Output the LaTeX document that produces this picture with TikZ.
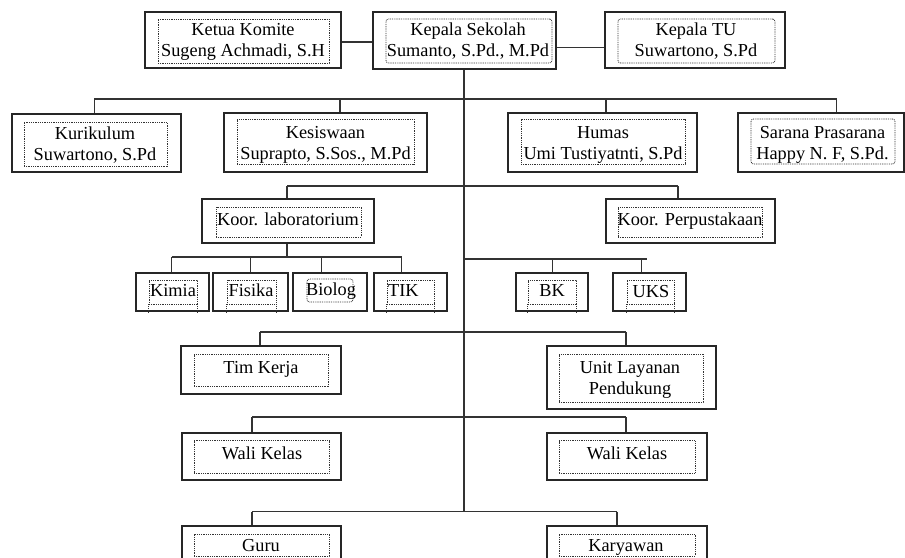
\documentclass[tikz,border=0pt]{standalone}
\usepackage{fontspec}
\setmainfont{Liberation Serif}
\usetikzlibrary{fit}
\begin{document}
\begin{tikzpicture}[x=1pt,y=-1pt,
  outerbox/.style={draw=black!85,line width=1.4pt,inner sep=0pt,rectangle},
  innerbox/.style={draw=black!80,line width=0.8pt,dash pattern=on 0.9pt off 0.9pt,inner sep=0pt,rectangle},
  innerround/.style={innerbox,rounded corners=2.5pt},
  lbl/.style={inner sep=0pt,align=center,yshift=-2.5pt,font=\fontsize{18.3}{21}\selectfont},
  lbl1/.style={lbl,text height=12.5pt,text depth=4pt},
  conn/.style={draw=black!80,line width=1.3pt}]
\clip (0,0) rectangle (905,557);
\fill[white] (0,0) rectangle (905,557);

% ---------- top row ----------
\node[outerbox,fit={(145,12) (341,68)}] (ket) {};
\node[innerbox,fit={(158,19) (329,63)}] (ket-in) {};
\node[lbl] (ket-t) at (243,39) {Ketua Komite\\Sugeng Achmadi, S.H};

\node[outerbox,fit={(373,12) (556,69)}] (ks) {};
\node[innerround,fit={(386,19) (552,63)}] (ks-in) {};
\node[lbl] (ks-t) at (468,39) {Kepala Sekolah\\Sumanto, S.Pd., M.Pd};

\node[outerbox,fit={(605,12) (785,68)}] (tu) {};
\node[innerround,fit={(618,19) (775,63)}] (tu-in) {};
\node[lbl] (tu-t) at (696,39) {Kepala TU\\Suwartono, S.Pd};

% ---------- second row ----------
\node[outerbox,fit={(12,114) (181,172)}] (kur) {};
\node[innerbox,fit={(24,122) (167,166)}] (kur-in) {};
\node[lbl] (kur-t) at (95,142.5) {Kurikulum\\Suwartono, S.Pd};

\node[outerbox,fit={(224,113) (427,172)}] (kes) {};
\node[innerbox,fit={(237,119) (414,164)}] (kes-in) {};
\node[lbl] (kes-t) at (325.5,142) {Kesiswaan\\Suprapto, S.Sos., M.Pd};

\node[outerbox,fit={(508,113) (697,172)}] (hum) {};
\node[innerbox,fit={(521,119) (685,164)}] (hum-in) {};
\node[lbl] (hum-t) at (603,142) {Humas\\Umi Tustiyatnti, S.Pd};

\node[outerbox,fit={(738,113) (904,172)}] (sar) {};
\node[innerround,fit={(751,119) (895,164)}] (sar-in) {};
\node[lbl] (sar-t) at (822.5,142) {Sarana Prasarana\\Happy N. F, S.Pd.};

% ---------- koordinator row ----------
\node[outerbox,fit={(202,199) (374,243)}] (kl) {};
\node[innerbox,fit={(216,207) (361,237)}] (kl-in) {};
\node[lbl1] (kl-t) at (288,219) {Koor. laboratorium};

\node[outerbox,fit={(606,199) (775,243)}] (kp) {};
\node[innerbox,fit={(618,207) (762,237)}] (kp-in) {};
\node[lbl1] (kp-t) at (690,219) {Koor. Perpustakaan};

% ---------- lab units ----------
\node[outerbox,fit={(136,273) (209,311)}] (kim) {};
\node[innerbox,fit={(149,280) (197,304)}] (kim-in) {};
\node[lbl1] (kim-t) at (173,290) {Kimia};

\node[outerbox,fit={(213,273) (288,311)}] (fis) {};
\node[innerbox,fit={(227,280) (276,304)}] (fis-in) {};
\node[lbl1] (fis-t) at (251,290) {Fisika};

\node[outerbox,fit={(293,273) (367,311)}] (bio) {};
\node[innerround,fit={(307,279) (353,302)}] (bio-in) {};
\node[lbl1] (bio-t) at (331,289) {Biolog};

\node[outerbox,fit={(374,273) (447,311)}] (tik) {};
\node[innerbox,fit={(387,280) (434,304)}] (tik-in) {};
\node[lbl1,anchor=west] (tik-t) at (388,290) {TIK};

\node[outerbox,fit={(516,273) (588,311)}] (bk) {};
\node[innerbox,fit={(528,280) (576,304)}] (bk-in) {};
\node[lbl1] (bk-t) at (552,290) {BK};

\node[outerbox,fit={(613,273) (686,311)}] (uks) {};
\node[innerbox,fit={(627,280) (674,304)}] (uks-in) {};
\node[lbl1] (uks-t) at (651,291) {UKS};

% dotted continuations below the inner boxes
\foreach \b in {kim,fis,tik,bk,uks}{
  \draw[innerbox] (\b-in.south west) -- (\b-in.south west |- \b.south);
  \draw[innerbox] (\b-in.south east) -- (\b-in.south east |- \b.south);
}

% ---------- tim kerja row ----------
\node[outerbox,fit={(181,346) (341,394)}] (tk) {};
\node[innerbox,fit={(194,354) (328,386)}] (tk-in) {};
\node[lbl1] (tk-t) at (261,367) {Tim Kerja};

\node[outerbox,fit={(547,346) (716,409)}] (ul) {};
\node[innerbox,fit={(559,354) (703,402)}] (ul-in) {};
\node[lbl] (ul-t) at (630,377.5) {Unit Layanan\\Pendukung};

% ---------- wali kelas row ----------
\node[outerbox,fit={(182,433) (341,480)}] (wk1) {};
\node[innerbox,fit={(194,440.5) (329,473.5)}] (wk1-in) {};
\node[lbl1] (wk1-t) at (262,452.5) {Wali Kelas};

\node[outerbox,fit={(547,433) (707,480)}] (wk2) {};
\node[innerbox,fit={(559,440.5) (695,473.5)}] (wk2-in) {};
\node[lbl1] (wk2-t) at (627,452.5) {Wali Kelas};

% ---------- guru row ----------
\node[outerbox,fit={(182,526) (341,580)}] (guru) {};
\node[innerbox,fit={(194,534) (329,556)}] (guru-in) {};
\node[lbl1] (guru-t) at (261,544.6) {Guru};

\node[outerbox,fit={(547,526) (707,580)}] (kar) {};
\node[innerbox,fit={(559,534) (695,556)}] (kar-in) {};
\node[lbl1] (kar-t) at (626,544.6) {Karyawan};

% ---------- connectors ----------
\coordinate (c-ket) at (341,42);
\coordinate (c-tu) at (605,47.5);
\draw[conn] (c-ket -| ket.east) -- (c-ket -| ks.west);
\draw[conn] (c-tu -| ks.east) -- (c-tu -| tu.west);

\coordinate (trunk) at (464,511.6);
\draw[conn] (trunk |- ks.south) -- (trunk);

% row 2
\coordinate (d-kur) at (94.3,99);
\coordinate (d-kes) at (340,99);
\coordinate (d-hum) at (606,99);
\coordinate (d-sar) at (836.7,99);
\draw[conn] (d-kur) -- (d-sar);
\draw[conn] (d-kur) -- (d-kur |- kur.north);
\draw[conn] (d-kes) -- (d-kes |- kes.north);
\draw[conn] (d-hum) -- (d-hum |- hum.north);
\draw[conn] (d-sar) -- (d-sar |- sar.north);

% row 3
\coordinate (d-kl) at (287,186);
\coordinate (d-kp) at (678,186);
\draw[conn] (d-kl) -- (d-kp);
\draw[conn] (d-kl) -- (d-kl |- kl.north);
\draw[conn] (d-kp) -- (d-kp |- kp.north);

% lab units
\coordinate (d-lab) at (287,257);
\coordinate (d-kim) at (171.7,257);
\coordinate (d-fis) at (250.7,257);
\coordinate (d-bio) at (321.7,257);
\coordinate (d-tik) at (401.7,257);
\draw[conn] (d-lab |- kl.south) -- (d-lab);
\draw[conn] (d-kim) -- (d-tik);
\draw[conn] (d-kim) -- (d-kim |- kim.north);
\draw[conn] (d-fis) -- (d-fis |- fis.north);
\draw[conn] (d-bio) -- (d-bio |- bio.north);
\draw[conn] (d-tik) -- (d-tik |- tik.north);

% BK / UKS
\coordinate (d-bkbar) at (464,259);
\coordinate (d-bkend) at (647,259);
\coordinate (d-bk) at (552.7,259);
\coordinate (d-uks) at (641.7,259);
\draw[conn] (d-bkbar) -- (d-bkend);
\draw[conn] (d-bk) -- (d-bk |- bk.north);
\draw[conn] (d-uks) -- (d-uks |- uks.north);

% tim kerja
\coordinate (d-tk) at (260,332);
\coordinate (d-ul) at (626,332);
\draw[conn] (d-tk) -- (d-ul);
\draw[conn] (d-tk) -- (d-tk |- tk.north);
\draw[conn] (d-ul) -- (d-ul |- ul.north);

% wali kelas
\coordinate (d-wk1) at (252,417);
\coordinate (d-wk2) at (626,417);
\draw[conn] (d-wk1) -- (d-wk2);
\draw[conn] (d-wk1) -- (d-wk1 |- wk1.north);
\draw[conn] (d-wk2) -- (d-wk2 |- wk2.north);

% guru / karyawan
\coordinate (d-guru) at (252,511.6);
\coordinate (d-kar) at (617,511.6);
\draw[conn] (d-guru) -- (d-kar);
\draw[conn] (d-guru) -- (d-guru |- guru.north);
\draw[conn] (d-kar) -- (d-kar |- kar.north);
\end{tikzpicture}
\end{document}
